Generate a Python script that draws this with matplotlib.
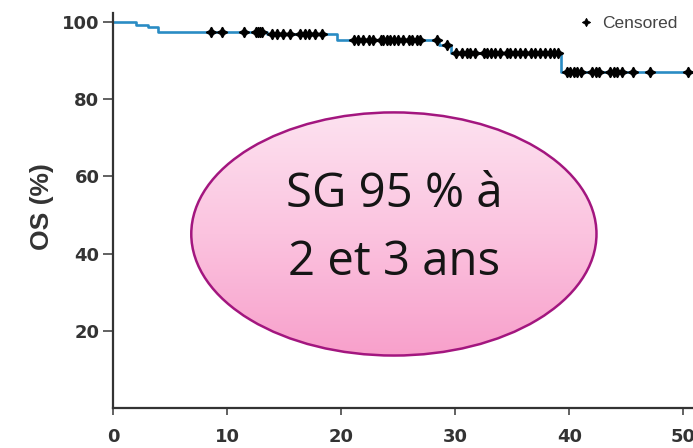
import matplotlib.pyplot as plt
import matplotlib.patches as mpatches
import numpy as np
from matplotlib.lines import Line2D
from matplotlib.colors import LinearSegmentedColormap

# Courbe de survie globale (Kaplan-Meier), temps en mois
step_times = [0, 2.0, 3.0, 3.9, 13.5, 19.6, 28.6, 29.6, 39.3, 51]
step_os = [100, 99.2, 98.6, 97.3, 96.8, 95.3, 94.0, 92.0, 87.1, 87.1]

# Patients censurés
censored_times = [8.6, 9.5, 11.5, 12.5, 12.7, 12.9, 13.0,
                  13.9, 14.4, 14.9, 15.5, 16.4, 16.8, 17.2, 17.7, 18.3,
                  21.1, 21.5, 21.9, 22.4, 22.8, 23.5, 23.7, 24.0, 24.3, 24.6,
                  25.0, 25.4, 25.9, 26.2, 26.6, 26.9, 28.4, 29.3,
                  30.1, 30.6, 31.0, 31.3, 31.7, 32.5, 32.8, 33.1, 33.5, 33.9,
                  34.5, 34.8, 35.2, 35.7, 36.1, 36.6, 37.0, 37.4, 37.9, 38.3,
                  38.7, 39.0,
                  39.8, 40.1, 40.4, 40.7, 41.0, 42.0, 42.3, 42.6, 43.6, 43.9,
                  44.2, 44.6, 45.6, 47.1, 50.4]

x_ticks = [0, 10, 20, 30, 40, 50]
y_ticks = [20, 40, 60, 80, 100]
bubble_lines = ["SG 95 % à", "2 et 3 ans"]

fig = plt.figure(figsize=(6.93, 4.48), dpi=100)
ax = fig.add_axes([0.1635, 0.0886, 0.8365, 0.8824])

ax.step(step_times, step_os, where='post', color='#2a8cc4', lw=1.9, zorder=2)

# position des censures sur la courbe en escalier
idx = np.searchsorted(step_times, censored_times, side='right') - 1
cens_y = np.array(step_os)[idx]
ax.plot(censored_times, cens_y, ls='none', marker=(4, 1, 0), ms=7.5,
        color='black', mew=1.0, zorder=3)

ax.set_xticks(x_ticks)
ax.set_yticks(y_ticks)
for s in ['top', 'right']:
    ax.spines[s].set_visible(False)
for s in ['left', 'bottom']:
    ax.spines[s].set_color('#333333')
    ax.spines[s].set_linewidth(1.6)
ax.tick_params(axis='x', length=5, width=1.3, color='#555555', pad=9)
ax.tick_params(axis='y', length=7, width=1.3, color='#555555', pad=3)
for lab in ax.get_xticklabels() + ax.get_yticklabels():
    lab.set_fontfamily('DejaVu Sans')
    lab.set_fontweight('bold')
    lab.set_fontsize(13)
    lab.set_color('#333333')
ax.set_ylabel('OS (%)', fontfamily='Liberation Sans',
              fontweight='bold', fontsize=19, color='#333333')
ax.yaxis.set_label_coords(-0.102, 0.51)

# légende
handle = Line2D([], [], ls='none', marker=(4, 1, 0), ms=6, color='black', mew=0.6)
leg = ax.legend([handle], ['Censored'], loc='upper right', frameon=False,
                bbox_to_anchor=(1.0, 1.032), handlelength=0.8, handletextpad=0.5,
                prop={'family': 'Liberation Sans', 'size': 12.5})
for t in leg.get_texts():
    t.set_color('#444444')

# bulle rose avec dégradé
cx, cy, w, h = 0.484, 0.441, 0.699, 0.615
ellipse = mpatches.Ellipse((cx, cy), w, h, transform=ax.transAxes,
                           facecolor='none', edgecolor='#a3167f', lw=1.8, zorder=5)
cmap = LinearSegmentedColormap.from_list('rose', ['#f8a0cb', '#fbc3df', '#fde2f0'])
grad = np.linspace(0, 1, 256).reshape(-1, 1)
img = ax.imshow(grad, cmap=cmap, aspect='auto', origin='lower',
                extent=(cx - w / 2, cx + w / 2, cy - h / 2, cy + h / 2),
                transform=ax.transAxes, zorder=4)
clip = mpatches.Ellipse((cx, cy), w, h, transform=ax.transAxes, facecolor='none')
ax.add_patch(clip)
clip.set_visible(False)
img.set_clip_path(clip)
ax.add_patch(ellipse)
ax.set_xlim(0, 50.85)
ax.set_ylim(0, 102.25)

ax.text(cx, 0.509, bubble_lines[0], transform=ax.transAxes, ha='center', va='baseline',
        fontfamily='Open Sans', fontsize=34, color='#151515', zorder=6)
ax.text(cx, 0.337, bubble_lines[1], transform=ax.transAxes, ha='center', va='baseline',
        fontfamily='Open Sans', fontsize=34, color='#151515', zorder=6)

fig.savefig('out.png', dpi=100)
